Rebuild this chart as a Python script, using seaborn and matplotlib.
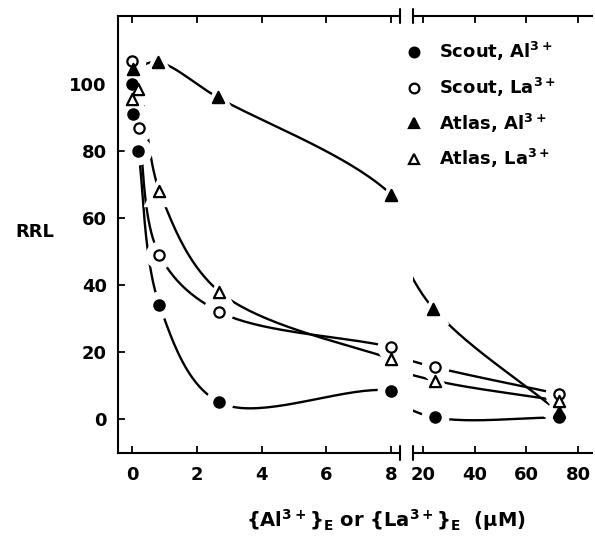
import numpy as np
import matplotlib
matplotlib.use('Agg')
import matplotlib.pyplot as plt
import seaborn as sns
from matplotlib.lines import Line2D

# values
scout_al_x = [0.0, 0.02, 0.2, 0.85, 2.7, 8.0, 24.6, 72.7]
scout_al_y = [100, 91, 80, 34, 5, 8.5, 0.5, 0.5]
scout_la_x = [0.0, 0.22, 0.85, 2.7, 8.0, 24.6, 72.7]
scout_la_y = [107, 87, 49, 32, 21.5, 15.5, 7.5]
atlas_al_x = [0.02, 0.8, 2.65, 8.0, 24.0, 72.7]
atlas_al_y = [104.5, 106.5, 96, 67, 33, 2]
atlas_la_x = [0.0, 0.2, 0.85, 2.7, 8.0, 24.6, 72.7]
atlas_la_y = [95.5, 98.5, 68, 38, 18, 11.5, 5.5]

left_ticks = [0, 2, 4, 6, 8]
right_ticks = [20, 40, 60, 80]
y_ticks = [0, 20, 40, 60, 80, 100]

series = [
    ('Scout, Al$^{3+}$', scout_al_x, scout_al_y, 'o', 'black'),
    ('Scout, La$^{3+}$', scout_la_x, scout_la_y, 'o', 'white'),
    ('Atlas, Al$^{3+}$', atlas_al_x, atlas_al_y, '^', 'black'),
    ('Atlas, La$^{3+}$', atlas_la_x, atlas_la_y, '^', 'white'),
]

sns.set_style('ticks')
plt.rcParams['font.family'] = ['DejaVu Sans']
plt.rcParams['font.weight'] = 'bold'
plt.rcParams['mathtext.fontset'] = 'custom'
plt.rcParams['mathtext.rm'] = 'DejaVu Sans:bold'
plt.rcParams['mathtext.it'] = 'DejaVu Sans:italic:bold'
plt.rcParams['mathtext.default'] = 'rm'
for k in ('text.color', 'axes.labelcolor', 'xtick.color', 'ytick.color', 'axes.edgecolor'):
    plt.rcParams[k] = 'black'

XBREAK = 8.27
GAP = 30  # extra screen px between panels used when smoothing across the break
fig = plt.figure(figsize=(5.95, 5.45), dpi=100)
ax1 = fig.add_axes([118 / 595, 1 - 453 / 545, 282 / 595, 437 / 545])
ax2 = fig.add_axes([413 / 595, 1 - 453 / 545, 179 / 595, 437 / 545])
ax1.set_xlim(-0.43, XBREAK)
ax2.set_xlim(16.1, 85.4)
for ax in (ax1, ax2):
    ax.set_ylim(-10.1, 120.3)


def to_px(xs, ys):
    pts = []
    for x, y in zip(xs, ys):
        if x <= XBREAK:
            pts.append(ax1.transData.transform((x, y)))
        else:
            pts.append(ax2.transData.transform((x, y)) + [GAP, 0])
    return np.array(pts)


def catmull_rom(P, n=40):
    # centripetal Catmull-Rom through the points (screen space)
    P = np.vstack([2 * P[0] - P[1], P, 2 * P[-1] - P[-2]])
    out = []
    for i in range(len(P) - 3):
        p0, p1, p2, p3 = P[i:i + 4]
        t0 = 0.0
        t1 = t0 + np.linalg.norm(p1 - p0) ** 0.5
        t2 = t1 + np.linalg.norm(p2 - p1) ** 0.5
        t3 = t2 + np.linalg.norm(p3 - p2) ** 0.5
        t = np.linspace(t1, t2, n)[:, None]
        a1 = (t1 - t) / (t1 - t0) * p0 + (t - t0) / (t1 - t0) * p1
        a2 = (t2 - t) / (t2 - t1) * p1 + (t - t1) / (t2 - t1) * p2
        a3 = (t3 - t) / (t3 - t2) * p2 + (t - t2) / (t3 - t2) * p3
        b1 = (t2 - t) / (t2 - t0) * a1 + (t - t0) / (t2 - t0) * a2
        b2 = (t3 - t) / (t3 - t1) * a2 + (t - t1) / (t3 - t1) * a3
        c = (t2 - t) / (t2 - t1) * b1 + (t - t1) / (t2 - t1) * b2
        out.append(c)
    return np.vstack(out)


# smooth curves computed in screen space so they run across the break
curves = []
for label, xs, ys, mk, fc in series:
    c = catmull_rom(to_px(xs, ys))
    curves.append({ax1: ax1.transData.inverted().transform(c),
                   ax2: ax2.transData.inverted().transform(c - [GAP, 0])})

for cdict in curves:
    for ax, d in cdict.items():
        n0 = len(ax.lines)
        sns.lineplot(x=d[:, 0], y=d[:, 1], ax=ax, sort=False, estimator=None,
                     color='black', lw=1.7, zorder=1)
        for ln in ax.lines[n0:]:
            ln.set_zorder(1)

# white halos leave gaps in the curves around each marker
for label, xs, ys, mk, fc in series:
    for ax in (ax1, ax2):
        ax.plot(xs, ys, ls='none', marker=mk, ms=19 if mk == 'o' else 21,
                mfc='white', mec='white', zorder=1.5)

for label, xs, ys, mk, fc in series:
    for ax in (ax1, ax2):
        sns.scatterplot(x=xs, y=ys, ax=ax, marker=mk, s=55 if mk == 'o' else 65,
                        color=fc, edgecolor='black', linewidth=1.6)
        ax.collections[-1].set_zorder(3)

ax1.set_xlim(-0.43, XBREAK)
ax2.set_xlim(16.1, 85.4)
for ax in (ax1, ax2):
    ax.set_ylim(-10.1, 120.3)
    ax.set_xlabel('')
    ax.set_ylabel('')
    for s in ax.spines.values():
        s.set_linewidth(1.5)
        s.set_zorder(2.5)
    ax.tick_params(direction='in', length=5, width=1.3, top=True,
                   labelsize=13, pad=9)

ax1.set_xticks(left_ticks)
ax1.set_yticks(y_ticks)
ax1.spines['right'].set_visible(False)
ax1.tick_params(axis='y', pad=8)
ax2.set_xticks(right_ticks)
ax2.set_yticks([])
ax2.spines['left'].set_visible(False)
ax2.spines['right'].set_visible(False)

# break marks
d = 7 / 437
for ax, xa in ((ax1, 1), (ax2, 0)):
    for ya in (0, 1):
        ax.plot([xa, xa], [ya - d, ya + d], transform=ax.transAxes,
                color='black', lw=1.5, clip_on=False)

handles = [Line2D([], [], marker=mk, ls='none', color='black', markerfacecolor=fc,
                  markeredgecolor='black', markeredgewidth=1.6, markersize=7)
           for label, xs, ys, mk, fc in series]
labels = [s[0] for s in series]
fig.legend(handles, labels, loc='upper left', bbox_to_anchor=(405 / 595, 1 - 40 / 545),
           frameon=False, fontsize=13, handlelength=1.0, handletextpad=0.9,
           labelspacing=0.7, borderpad=0, borderaxespad=0)

fig.text(35 / 595, 1 - 232 / 545, 'RRL', fontsize=13, ha='center', va='center')
fig.text(386 / 595, 1 - 520 / 545,
         r'{Al$^{3+}$}$_E$ or {La$^{3+}$}$_E$  ($\mu$M)',
         fontsize=14, ha='center', va='center')

fig.savefig('out.png', dpi=100)
